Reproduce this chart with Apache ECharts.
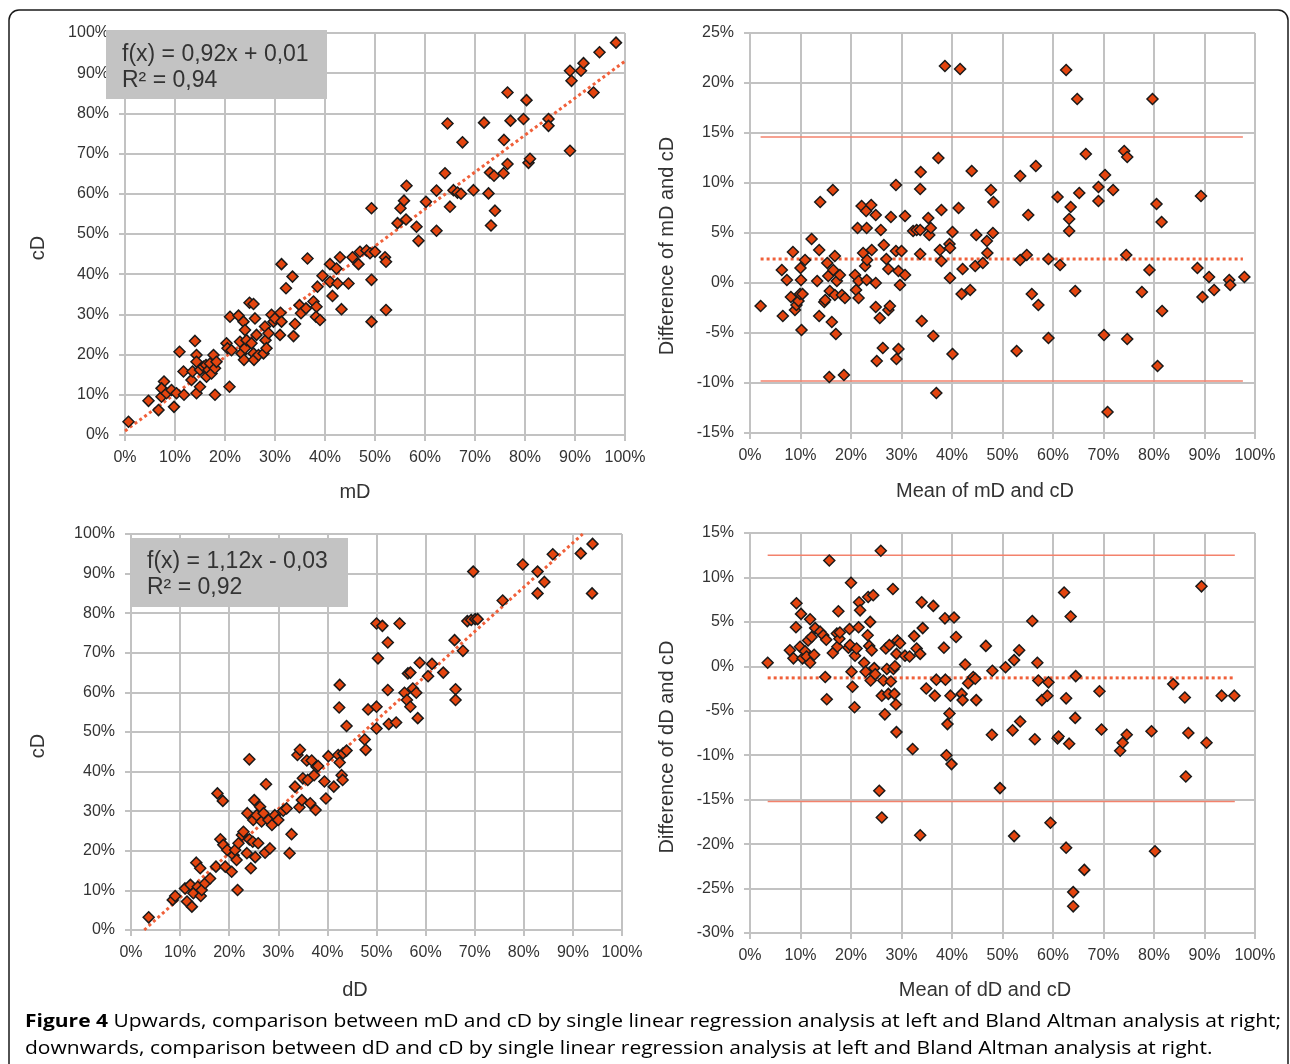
<!DOCTYPE html>
<html><head><meta charset="utf-8">
<script src="https://cdn.jsdelivr.net/npm/echarts@6/dist/echarts.min.js"></script>
<style>html,body{margin:0;padding:0;background:#fff}#c{width:1290px;height:1064px}</style>
</head><body><div id="c"></div>
<script>
// ---------- DATA (values in %) ----------
// Panel 1: mD (x) vs cD (y)
const mdVsCd = [[0.7,3.3],[4.7,8.5],[6.7,6.2],[7.3,9.5],[7.8,13.3],[7.3,11.6],[8.3,10.4],[9.8,7.0],[9.3,11.2],[10.3,10.4],[10.9,20.7],[11.7,15.8],[11.8,10.0],[13.3,13.7],[13.5,15.8],[14.0,23.4],[14.3,19.9],[14.3,18.2],[14.3,10.4],[15.0,12.0],[15.0,16.2],[15.7,17.0],[16.2,17.4],[16.3,14.5],[16.7,16.2],[17.0,17.8],[17.3,15.3],[17.7,19.9],[18.0,10.0],[18.0,16.6],[18.3,18.2],[20.9,12.0],[20.3,22.8],[20.5,21.6],[21.0,29.4],[21.3,21.1],[22.7,29.7],[23.0,23.2],[23.3,20.3],[23.7,28.2],[23.8,18.7],[24.0,26.1],[24.0,21.6],[24.3,23.6],[24.9,32.9],[25.7,32.6],[25.3,22.8],[25.7,20.3],[25.8,18.7],[26.0,29.0],[26.3,24.9],[26.7,19.9],[27.7,20.3],[28.0,27.0],[28.1,23.6],[28.3,21.6],[28.7,25.3],[29.3,29.9],[29.7,28.2],[30.0,29.0],[31.0,24.9],[31.1,30.4],[31.3,28.2],[31.3,42.5],[32.2,36.5],[33.5,39.4],[33.7,24.6],[34.0,27.6],[34.9,32.3],[35.2,30.3],[36.2,31.5],[36.5,43.9],[37.7,33.2],[38.3,31.9],[38.2,29.4],[38.5,36.9],[39.0,28.6],[39.5,39.6],[41.0,42.5],[41.0,38.1],[41.5,34.6],[42.3,41.4],[42.5,37.7],[43.0,44.2],[43.3,31.3],[44.7,37.7],[45.5,44.2],[46.7,42.5],[47.0,45.6],[48.3,45.9],[49.3,56.4],[49.3,38.6],[49.3,28.2],[49.0,45.2],[50.0,45.6],[52.0,44.2],[52.2,43.1],[52.2,31.1],[54.5,52.7],[55.1,56.4],[55.8,58.3],[56.2,53.6],[56.3,62.0],[58.3,51.8],[58.7,48.3],[60.2,58.0],[62.3,60.8],[62.3,50.8],[64.0,65.1],[64.5,77.5],[65.0,56.8],[65.7,60.9],[66.5,60.3],[67.2,60.0],[67.5,72.8],[69.7,60.9],[71.8,77.7],[72.7,60.1],[73.0,65.3],[73.2,52.1],[73.8,64.5],[74.0,55.8],[75.7,65.1],[75.8,73.4],[76.5,67.4],[76.5,85.2],[77.1,78.2],[79.7,78.6],[80.3,83.3],[80.7,67.7],[81.0,68.7],[84.7,78.6],[84.7,76.9],[89.0,70.7],[89.0,90.6],[89.3,88.1],[91.2,90.6],[91.7,92.5],[93.7,85.2],[94.9,95.2],[98.2,97.6]];
const trendMd = [[0,1.0],[100,93.0]];

// Panel 2: mean of mD and cD (x) vs difference (y)
const baMd = [[2.1,-2.3],[6.5,-3.3],[6.3,1.3],[7.3,0.3],[8.5,3.1],[8.1,-1.4],[8.9,-2.7],[9.2,-2.2],[9.6,-1.8],[9.9,-1.1],[10.0,1.5],[10.2,-4.7],[10.1,0.3],[10.4,-1.1],[10.9,2.3],[12.2,4.4],[13.3,0.2],[13.7,3.3],[13.7,-3.3],[13.9,8.1],[14.7,-1.9],[14.9,-1.7],[15.3,2.0],[15.5,0.7],[15.7,-9.4],[15.8,-0.8],[16.2,-3.9],[16.4,9.3],[16.5,1.3],[16.8,2.7],[16.8,-1.2],[17.0,-5.1],[17.2,0.2],[17.8,0.8],[18.2,-1.2],[18.6,-9.2],[18.8,-1.5],[20.8,0.8],[21.0,-0.7],[21.3,5.5],[21.5,0.2],[21.5,-1.5],[22.1,7.7],[22.4,3.0],[22.8,1.7],[23.0,7.2],[23.1,5.5],[23.1,0.3],[23.2,2.3],[24.0,7.8],[24.1,3.3],[24.9,6.8],[24.9,0.0],[24.9,-2.4],[25.1,-7.8],[25.7,-3.5],[25.9,5.3],[26.3,-6.5],[26.5,3.8],[27.0,2.4],[27.4,1.4],[27.4,-2.7],[27.7,-2.3],[27.9,6.6],[28.9,9.8],[28.9,3.2],[29.0,-7.6],[29.4,1.2],[29.4,-6.6],[29.7,-0.2],[30.0,3.2],[30.7,6.7],[30.7,0.8],[32.3,5.2],[33.0,5.3],[33.7,5.3],[33.7,9.4],[33.8,11.1],[33.7,2.9],[34.0,-3.8],[35.3,6.5],[35.5,4.8],[35.8,5.5],[36.3,-5.3],[36.9,-11.0],[37.3,12.5],[37.6,3.3],[37.9,7.3],[37.9,2.2],[38.6,21.7],[39.5,3.9],[39.6,3.5],[39.6,0.5],[40.1,5.1],[40.1,-7.1],[41.3,7.5],[41.6,21.4],[41.9,-1.1],[42.1,1.4],[43.6,-0.7],[43.9,11.2],[44.6,1.7],[44.8,4.8],[46.1,2.0],[46.9,4.2],[47.0,3.0],[47.7,9.3],[48.1,5.0],[48.2,8.1],[53.5,10.7],[52.8,-6.8],[53.5,2.3],[54.8,2.8],[55.1,6.8],[55.8,-1.1],[56.6,11.7],[57.1,-2.2],[59.1,2.4],[59.1,-5.5],[60.9,8.6],[61.4,1.8],[62.6,21.3],[63.2,5.2],[63.2,6.4],[63.5,7.6],[64.4,-0.8],[64.8,18.4],[65.2,9.0],[66.5,12.9],[69.0,9.6],[69.0,8.2],[70.1,-5.2],[70.3,10.8],[70.8,-12.9],[71.9,9.3],[74.1,13.2],[74.5,2.8],[74.7,12.6],[74.7,-5.6],[77.6,-0.9],[79.1,1.3],[79.7,18.4],[80.5,7.9],[80.7,-8.3],[81.5,6.1],[81.6,-2.8],[88.6,1.5],[89.3,8.7],[89.6,-1.4],[90.9,0.6],[91.9,-0.7],[94.9,0.3],[95.1,-0.2],[97.9,0.6]];
const baMdMean = 2.4, baMdUpper = 14.6, baMdLower = -9.8;
const baMdSpan = [2.1, 97.6];

// Panel 3: dD (x) vs cD (y)
const ddVsCd = [[3.6,3.2],[8.5,7.6],[9.0,8.6],[11.0,10.5],[11.4,7.2],[12.1,11.4],[12.4,5.9],[12.7,9.3],[13.3,17.0],[13.6,10.9],[14.1,15.6],[14.2,8.6],[14.4,10.1],[15.1,11.8],[16.1,13.0],[17.3,16.0],[17.6,34.5],[18.7,32.6],[18.2,22.9],[18.8,21.5],[19.2,16.0],[19.6,20.2],[20.5,14.7],[20.9,18.9],[21.2,20.2],[21.5,17.7],[21.7,10.1],[21.9,21.9],[22.6,24.0],[22.9,24.8],[23.6,19.4],[23.7,29.5],[24.1,43.1],[24.1,22.9],[24.4,15.6],[24.8,22.3],[24.9,27.8],[25.1,32.8],[25.3,18.4],[25.6,29.0],[25.9,21.9],[26.3,31.1],[26.6,27.4],[27.0,29.5],[27.3,19.5],[27.5,36.8],[28.0,27.8],[28.3,20.6],[28.7,26.5],[29.3,29.0],[30.0,27.8],[31.0,30.1],[31.7,30.7],[32.3,19.4],[32.7,24.2],[33.4,36.2],[33.9,44.2],[34.3,31.0],[34.4,45.5],[34.8,32.8],[35.0,38.3],[35.8,42.8],[36.0,37.9],[36.5,32.0],[36.8,42.8],[37.3,39.1],[37.6,30.3],[37.8,41.2],[38.1,41.4],[39.4,37.5],[39.7,33.2],[40.2,43.9],[41.3,36.2],[42.2,44.2],[42.4,56.2],[42.5,61.9],[42.5,42.3],[42.9,39.1],[43.1,37.9],[43.2,44.6],[43.9,45.3],[43.9,51.5],[47.6,48.1],[47.8,45.5],[48.3,55.7],[50.0,56.4],[50.0,50.9],[50.0,77.4],[50.3,68.6],[51.2,76.8],[52.3,72.6],[52.3,60.6],[52.5,52.0],[54.0,52.4],[54.7,77.4],[55.7,59.9],[56.2,58.1],[56.4,64.8],[56.9,65.0],[56.9,56.4],[57.4,61.0],[58.1,59.9],[58.4,53.5],[58.8,67.5],[60.5,64.1],[61.3,67.2],[63.6,65.0],[65.9,73.2],[66.1,60.8],[66.1,58.1],[67.6,70.5],[68.5,78.0],[69.3,78.3],[69.7,90.5],[70.1,78.5],[70.6,78.5],[75.7,83.2],[79.8,92.3],[82.8,90.5],[82.8,85.0],[84.2,87.9],[85.9,94.9],[91.6,95.1],[93.9,85.0],[94.0,97.5]];
const trendDd = [[2.7,0],[92.0,100]];

// Panel 4: mean of dD and cD (x) vs difference (y)
const baDd = [[3.5,0.4],[7.9,1.8],[8.6,0.9],[9.1,4.4],[9.2,7.1],[9.9,2.2],[10.1,5.9],[10.4,0.9],[10.9,1.7],[11.2,1.1],[11.5,2.9],[11.9,5.3],[11.9,0.4],[12.2,3.3],[12.7,1.3],[12.9,4.3],[13.9,3.9],[14.5,3.5],[14.9,-1.2],[15.1,3.0],[15.2,-3.7],[15.7,11.9],[16.4,1.5],[17.2,3.7],[17.3,2.2],[17.5,6.2],[17.7,3.1],[17.8,3.8],[19.5,2.1],[19.7,4.2],[19.8,2.4],[20.0,9.4],[20.1,-0.6],[20.3,-2.3],[20.7,-4.6],[20.8,1.2],[21.1,2.0],[21.5,4.4],[21.6,7.2],[21.8,6.3],[22.6,0.4],[22.9,-0.6],[23.3,3.5],[23.4,7.8],[23.6,2.3],[23.8,5.0],[23.9,-1.6],[24.1,1.8],[24.4,8.0],[24.6,-0.2],[24.8,-0.9],[25.6,-14.0],[25.9,13.0],[26.1,-3.3],[26.1,-17.0],[26.4,-1.6],[26.7,-5.4],[26.9,2.0],[27.1,-0.3],[27.4,-3.1],[27.6,2.4],[27.9,-1.7],[28.3,8.7],[28.4,-0.3],[28.6,-3.1],[28.7,0.0],[28.9,-4.3],[29.0,1.4],[29.2,2.9],[29.0,-7.4],[29.7,2.6],[30.7,1.2],[31.6,1.1],[32.2,-9.3],[32.5,3.4],[33.0,2.0],[33.7,1.4],[33.7,-19.0],[34.0,7.2],[34.2,4.3],[34.9,-2.5],[36.3,6.8],[36.6,-3.3],[36.9,-1.5],[38.4,2.1],[38.6,5.4],[38.7,-1.5],[39.1,-6.5],[38.9,-10.0],[39.5,-5.3],[39.7,-3.3],[39.9,-11.0],[40.4,5.5],[40.8,3.3],[41.9,-3.1],[42.1,-3.8],[42.6,0.2],[43.2,-1.9],[44.2,-1.2],[44.6,-1.4],[44.8,-3.8],[46.7,2.3],[47.9,-7.7],[48.0,-0.5],[49.5,-13.7],[50.6,-0.1],[52.0,-7.2],[52.3,0.7],[52.3,-19.1],[53.3,1.8],[53.5,-6.2],[55.9,5.1],[56.4,-8.2],[56.9,0.4],[57.1,-1.6],[57.8,-3.8],[58.9,-3.3],[59.1,-1.8],[59.5,-17.6],[60.9,-8.1],[61.1,-7.9],[62.2,8.3],[62.6,-3.6],[62.6,-20.4],[63.2,-8.7],[63.5,5.6],[64.0,-25.4],[64.0,-27.0],[64.4,-5.8],[64.5,-1.1],[66.2,-22.9],[69.2,-2.8],[69.6,-7.1],[73.3,-9.5],[73.8,-8.6],[74.6,-7.7],[79.5,-7.3],[80.2,-20.8],[83.8,-2.0],[86.1,-3.5],[86.3,-12.4],[86.8,-7.5],[89.4,9.0],[90.4,-8.6],[93.4,-3.3],[95.9,-3.3]];
const baDdMean = -1.3, baDdUpper = 12.5, baDdLower = -15.2;
const baDdSpan = [3.5, 96.0];

// Axis ranges / tick steps
const pctTicks = [0, 100, 10];          // min, max, step for 0..100 axes
const baMdYTicks = [-15, 25, 5];
const baDdYTicks = [-30, 15, 5];

// Texts
const eqMd = ['f(x) = 0,92x + 0,01', 'R² = 0,94'];
const eqDd = ['f(x) = 1,12x - 0,03', 'R² = 0,92'];
const axisNames = {
  p1x: 'mD', p1y: 'cD',
  p2x: 'Mean of mD and cD', p2y: 'Difference of mD and cD',
  p3x: 'dD', p3y: 'cD',
  p4x: 'Mean of dD and cD', p4y: 'Difference of dD and cD'
};
const captionBold = 'Figure 4';
const captionLine1 = ' Upwards, comparison between mD and cD by single linear regression analysis at left and Bland Altman analysis at right;';
const captionLine2 = 'downwards, comparison between dD and cD by single linear regression analysis at left and Bland Altman analysis at right.';

// ---------- CHART ----------
const FONT = 'Liberation Sans, Arial, sans-serif';
const GRID_C = '#c2c2c2';
const MARK_FILL = '#e4450f';
const TREND_C = '#f0603a';
const LIMIT_C = '#f3826c';

function axis(gridIndex, ticks, isX) {
  return {
    type: 'value', gridIndex,
    min: ticks[0], max: ticks[1], interval: ticks[2],
    axisLine: { show: true, onZero: false, lineStyle: { color: GRID_C, width: 2 } },
    axisTick: { show: true, length: 6, lineStyle: { color: GRID_C, width: 2 } },
    splitLine: { show: true, lineStyle: { color: GRID_C, width: 2 } },
    axisLabel: { fontFamily: FONT, fontSize: 16, color: '#333', margin: isX ? 15 : 16, formatter: '{value}%' }
  };
}

function scatter(i, data) {
  return {
    type: 'scatter', xAxisIndex: i, yAxisIndex: i, data,
    symbol: 'diamond', symbolSize: 11, z: 5,
    itemStyle: { color: MARK_FILL, borderColor: '#1a1a1a', borderWidth: 1.5, opacity: 1 },
    silent: true
  };
}
function segLine(i, data, color, width, type, z) {
  return {
    type: 'line', xAxisIndex: i, yAxisIndex: i, data,
    showSymbol: false, symbol: 'none', silent: true, z: z || 3,
    lineStyle: { color, width, type, cap: 'butt' }
  };
}
function nameText(text, x, y, vertical) {
  return {
    type: 'text', x, y, rotation: vertical ? Math.PI / 2 : 0, z: 51, silent: true,
    style: { text, font: '20px ' + FONT, fill: '#333', textAlign: 'center', textVerticalAlign: 'middle' }
  };
}

const grids = [
  { left: 125, top: 33, width: 500, height: 402 },
  { left: 750, top: 33, width: 505, height: 400 },
  { left: 131, top: 534, width: 491, height: 396 },
  { left: 750, top: 533, width: 505, height: 400 }
];

const option = {
  backgroundColor: '#fff',
  animation: false,
  grid: grids,
  xAxis: [axis(0, pctTicks, true), axis(1, pctTicks, true), axis(2, pctTicks, true), axis(3, pctTicks, true)],
  yAxis: [axis(0, pctTicks, false), axis(1, baMdYTicks, false), axis(2, pctTicks, false), axis(3, baDdYTicks, false)],
  series: [
    segLine(0, trendMd, TREND_C, 3, [3, 3], 4),
    scatter(0, mdVsCd),
    segLine(1, [[baMdSpan[0], baMdUpper], [baMdSpan[1], baMdUpper]], LIMIT_C, 1.5, 'solid'),
    segLine(1, [[baMdSpan[0], baMdLower], [baMdSpan[1], baMdLower]], LIMIT_C, 1.5, 'solid'),
    segLine(1, [[baMdSpan[0], baMdMean], [baMdSpan[1], baMdMean]], TREND_C, 3, [3, 3]),
    scatter(1, baMd),
    segLine(2, trendDd, TREND_C, 3, [3, 3], 4),
    scatter(2, ddVsCd),
    segLine(3, [[baDdSpan[0], baDdUpper], [baDdSpan[1], baDdUpper]], LIMIT_C, 1.5, 'solid'),
    segLine(3, [[baDdSpan[0], baDdLower], [baDdSpan[1], baDdLower]], LIMIT_C, 1.5, 'solid'),
    segLine(3, [[baDdSpan[0], baDdMean], [baDdSpan[1], baDdMean]], TREND_C, 3, [3, 3]),
    scatter(3, baDd)
  ],
  graphic: [
    { type: 'rect', shape: { x: 9, y: 10, width: 1279, height: 1090, r: 10 }, style: { fill: 'none', stroke: '#1a1a1a', lineWidth: 1.5 }, z: 100, silent: true },
    { type: 'rect', shape: { x: 106, y: 30, width: 221, height: 69 }, style: { fill: '#c3c3c3' }, z: 50, silent: true },
    { type: 'text', x: 122, y: 42, z: 51, style: { text: eqMd.join('\n'), font: '23px ' + FONT, fill: '#333', lineHeight: 26 } },
    { type: 'rect', shape: { x: 131, y: 538, width: 217, height: 69 }, style: { fill: '#c3c3c3' }, z: 50, silent: true },
    { type: 'text', x: 147, y: 549, z: 51, style: { text: eqDd.join('\n'), font: '23px ' + FONT, fill: '#333', lineHeight: 26 } },
    nameText(axisNames.p1x, 355, 492, false),
    nameText(axisNames.p2x, 985, 491, false),
    nameText(axisNames.p3x, 355, 990, false),
    nameText(axisNames.p4x, 985, 990, false),
    nameText(axisNames.p1y, 38, 248, true),
    nameText(axisNames.p2y, 667, 246, true),
    nameText(axisNames.p3y, 38, 746, true),
    nameText(axisNames.p4y, 667, 747, true),
    { type: 'text', x: 25, y: 1009, scaleX: 1.2, z: 51, silent: true, style: {
        text: '{b|' + captionBold + '}' + captionLine1 + '\n' + captionLine2,
        fontFamily: 'Open Sans', fontSize: 17.5, fill: '#000', lineHeight: 27,
        rich: { b: { fontFamily: 'Open Sans', fontSize: 17.5, fontWeight: 'bold', fill: '#000', lineHeight: 27 } }
    } }
  ]
};

const chart = echarts.init(document.getElementById('c'), null, { renderer: 'canvas' });
chart.setOption(option);
</script></body></html>
